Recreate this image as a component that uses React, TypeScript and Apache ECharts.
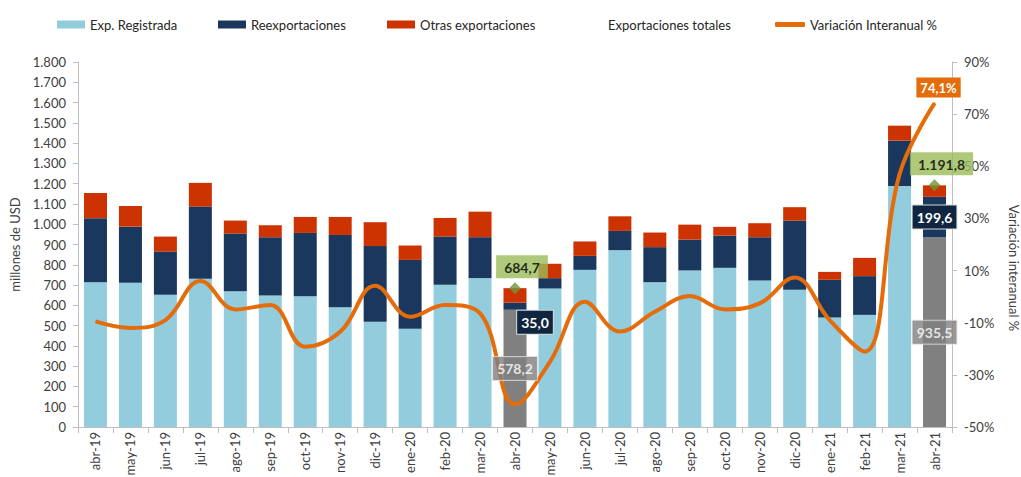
import React, { useEffect, useRef } from "react";
import * as echarts from "echarts";

const categories = [
  "abr-19", "may-19", "jun-19", "jul-19", "ago-19", "sep-19", "oct-19", "nov-19",
  "dic-19", "ene-20", "feb-20", "mar-20", "abr-20", "may-20", "jun-20", "jul-20",
  "ago-20", "sep-20", "oct-20", "nov-20", "dic-20", "ene-21", "feb-21", "mar-21", "abr-21",
];

const expRegistrada = [
  714, 711, 652, 731, 670, 649, 645, 591, 519, 484, 701, 734, 578.2, 683, 775, 872,
  714, 772, 785, 722, 677, 540, 553, 1189, 935.5,
];

const reexportaciones = [
  316, 277, 213, 356, 284, 287, 312, 356, 373, 340, 238, 202, 35.0, 51, 69, 95,
  173, 152, 159, 214, 341, 186, 191, 223, 199.6,
];

const otrasExportaciones = [
  124, 102, 74, 117, 64, 59, 79, 89, 118, 71, 92, 126, 71.5, 71, 71, 72,
  72, 74, 43, 69, 66, 39, 90, 74, 56.7,
];

// Totals shown only for the highlighted months
const exportacionesTotales: (number | null)[] = [
  null, null, null, null, null, null, null, null, null, null, null, null, 684.7,
  null, null, null, null, null, null, null, null, null, null, null, 1191.8,
];

const variacionInteranual = [
  -9.5, -12.0, -9.0, 6.0, -4.9, -3.2, -19.2, -13.5, 4.2, -7.7, -3.2, -6.4, -41.3,
  -25.0, -2.0, -13.4, -5.8, 0.2, -4.9, -2.6, 7.3, -9.0, -21.1, 47.0, 74.1,
];

const leftTicks = { min: 0, max: 1800, interval: 100 };
const rightTicks = { min: -50, max: 90, interval: 20 };

const highlighted = [12, 24];

const FONT = "Lato, 'Open Sans', sans-serif";
const C_LIGHT = "#93CDDD";
const C_NAVY = "#1A375E";
const C_RED = "#CC3300";
const C_GRAY = "#808080";
const C_ORANGE = "#E46C0A";
const C_GREEN = "#9BBB59";
const C_DIAMOND = "#76923C";

function fmt(v: number, decimals: number): string {
  const parts = v.toFixed(decimals).split(".");
  parts[0] = parts[0].replace(/\B(?=(\d{3})+(?!\d))/g, ".");
  return parts.join(",");
}

const boxLabel = (bg: string, color: string) => ({
  show: true,
  backgroundColor: bg,
  color,
  fontFamily: FONT,
  fontSize: 14,
  fontWeight: "bold" as const,
  padding: [5, 4, 4, 4],
  borderColor: "#d9d9d9",
  borderWidth: 1,
});

export default function App() {
  const ref = useRef<HTMLDivElement>(null);

  useEffect(() => {
    if (!ref.current) return;
    const chart = echarts.init(ref.current, undefined, { renderer: "svg" });

    const expData = expRegistrada.map((v, i) =>
      highlighted.includes(i) ? { value: v, itemStyle: { color: C_GRAY } } : v
    );

    // labels of the grey segments, drawn above the line
    const expLabelData = highlighted.map((i) => ({
      value: [i, expRegistrada[i] / 2],
      symbolSize: 0,
      label: {
        ...boxLabel(C_GRAY, "#fff"),
        position: "inside",
        formatter: () => fmt(expRegistrada[i], 1),
      },
    }));

    const reexpData = reexportaciones.map((v, i) =>
      highlighted.includes(i)
        ? {
            value: v,
            label: {
              ...boxLabel("#10253F", "#fff"),
              position: "inside",
              offset: i === 12 ? [20, 16] : [0, 0],
              formatter: () => fmt(v, 1),
            },
          }
        : v
    );

    const lineData = variacionInteranual.map((v, i) =>
      i === variacionInteranual.length - 1
        ? {
            value: v,
            symbol: "circle",
            symbolSize: 2,
            label: {
              ...boxLabel(C_ORANGE, "#fff"),
              fontSize: 13,
              padding: [4, 4, 3, 4],
              borderWidth: 0,
              position: "top",
              distance: 5,
              offset: [4, 0],
              formatter: () => fmt(v, 1) + "%",
            },
          }
        : v
    );

    const totalData = exportacionesTotales.map((v) =>
      v == null
        ? "-"
        : {
            value: v,
            label: {
              ...boxLabel(C_GREEN, "#000"),
              padding: [5, 8, 4, 8],
              borderWidth: 0,
              position: "top",
              distance: 4,
              offset: [7, 0],
              formatter: () => fmt(v, 1),
            },
          }
    );

    const legendBase = {
      top: 13,
      itemWidth: 28,
      itemHeight: 8,
      itemGap: 0,
      textStyle: { fontFamily: FONT, fontSize: 13, color: "#262626" },
      selectedMode: false,
    };

    chart.setOption({
      animation: false,
      textStyle: { fontFamily: FONT },
      legend: [
        { ...legendBase, left: 52, data: [{ name: "Exp. Registrada", icon: "rect" }] },
        { ...legendBase, left: 213, data: [{ name: "Reexportaciones", icon: "rect" }] },
        { ...legendBase, left: 382, data: [{ name: "Otras exportaciones", icon: "rect" }] },
        { ...legendBase, left: 570, data: [{ name: "Exportaciones totales", icon: "none" }] },
        {
          ...legendBase,
          left: 770,
          itemWidth: 30,
          itemHeight: 5,
          data: [{ name: "Variación Interanual %", icon: "roundRect" }],
        },
      ],
      grid: {
        left: 78,
        right: 69,
        top: 62,
        bottom: 50,
        containLabel: false,
        outerBoundsMode: "none",
      },
      xAxis: {
        type: "category",
        data: categories,
        boundaryGap: true,
        axisLine: { lineStyle: { color: "#BFBFBF", width: 1 } },
        axisTick: { show: true, interval: 0, length: 6, lineStyle: { color: "#BFBFBF" } },
        axisLabel: {
          rotate: 90,
          interval: 0,
          margin: 5,
          fontFamily: FONT,
          fontSize: 13,
          color: "#404040",
        },
        splitLine: { show: false },
      },
      yAxis: [
        {
          type: "value",
          min: leftTicks.min,
          max: leftTicks.max,
          interval: leftTicks.interval,
          name: "millones de USD",
          nameLocation: "middle",
          nameGap: 57,
          nameTextStyle: { fontFamily: FONT, fontSize: 13, color: "#404040" },
          axisLine: { show: true, lineStyle: { color: "#BFBFBF" } },
          axisTick: { show: true, length: 5, lineStyle: { color: "#BFBFBF" } },
          axisLabel: {
            margin: 12,
            fontFamily: FONT,
            fontSize: 13,
            color: "#404040",
            formatter: (v: number) => fmt(v, 0),
          },
          splitLine: { show: false },
        },
        {
          type: "value",
          position: "right",
          min: rightTicks.min,
          max: rightTicks.max,
          interval: rightTicks.interval,
          axisLine: { show: true, lineStyle: { color: "#BFBFBF" } },
          axisTick: { show: true, length: 5, lineStyle: { color: "#BFBFBF" } },
          axisLabel: {
            margin: 12,
            fontFamily: FONT,
            fontSize: 13,
            color: "#404040",
            formatter: (v: number) => v + "%",
          },
          splitLine: { show: false },
        },
      ],
      series: [
        {
          name: "Exp. Registrada",
          type: "bar",
          stack: "total",
          barWidth: 23,
          itemStyle: { color: C_LIGHT },
          data: expData,
          z: 2,
        },
        {
          name: "Reexportaciones",
          type: "bar",
          stack: "total",
          barWidth: 23,
          itemStyle: { color: C_NAVY },
          data: reexpData,
          z: 2,
        },
        {
          name: "Otras exportaciones",
          type: "bar",
          stack: "total",
          barWidth: 23,
          itemStyle: { color: C_RED },
          data: otrasExportaciones,
          z: 2,
        },
        {
          name: "Exportaciones totales",
          type: "scatter",
          symbol: "diamond",
          symbolSize: 12,
          itemStyle: { color: C_DIAMOND },
          data: totalData,
          z: 6,
        },
        {
          name: "Variación Interanual %",
          type: "line",
          yAxisIndex: 1,
          smooth: 0.4,
          symbol: "none",
          showSymbol: true,
          lineStyle: { color: C_ORANGE, width: 4 },
          itemStyle: { color: C_ORANGE },
          data: lineData,
          z: 5,
        },
        {
          name: "etiquetas",
          type: "scatter",
          symbol: "circle",
          itemStyle: { color: C_GRAY },
          data: expLabelData,
          z: 8,
          silent: true,
        },
      ],
      graphic: [
        {
          type: "text",
          x: 1014,
          y: 268,
          rotation: -Math.PI / 2,
          style: {
            text: "Variación interanual %",
            fontFamily: FONT,
            fontSize: 13,
            fill: "#404040",
            align: "center",
            verticalAlign: "middle",
          },
        },
      ],
    });

    return () => chart.dispose();
  }, []);

  return (
    <div
      ref={ref}
      style={{ position: "fixed", left: 0, top: 0, width: 1021, height: 477, background: "#fff" }}
    />
  );
}
